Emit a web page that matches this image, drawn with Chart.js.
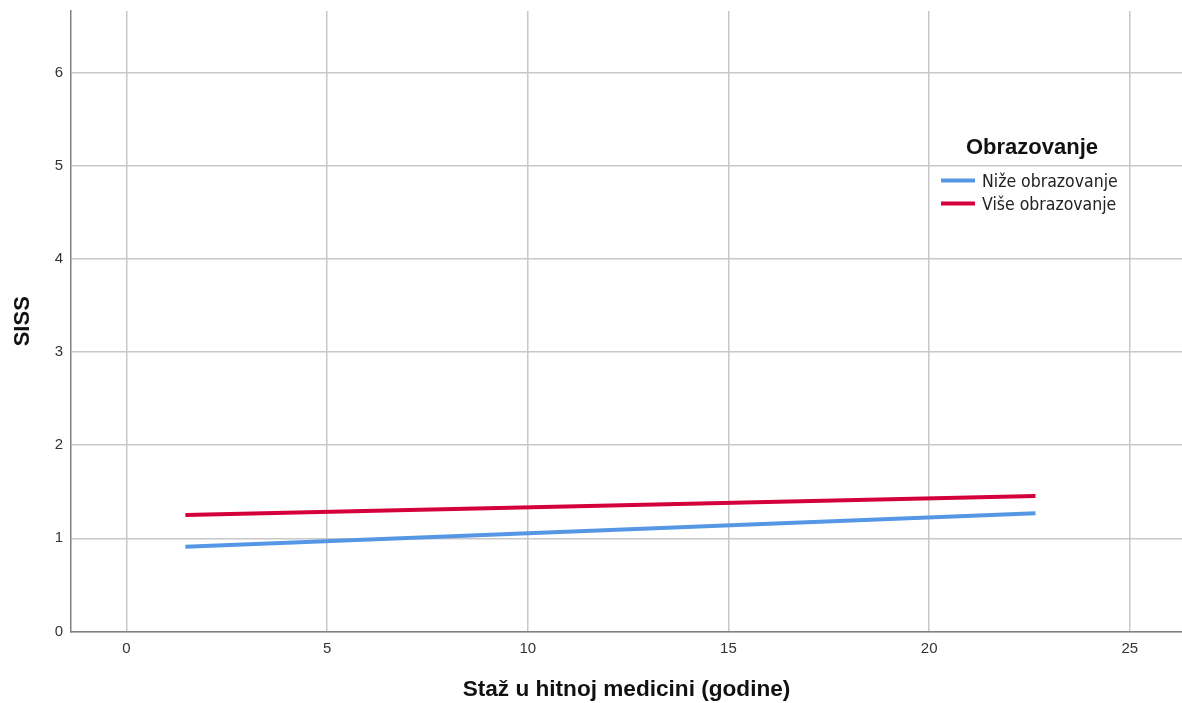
<!DOCTYPE html>
<html>
<head>
<meta charset="utf-8">
<script src="https://cdn.jsdelivr.net/npm/chart.js@4/dist/chart.umd.min.js"></script>
<style>
html,body{margin:0;padding:0;background:#fff;}
#wrap{width:1182px;height:703px;position:relative;}
</style>
</head>
<body>
<div id="wrap"><canvas id="c" width="1182" height="703"></canvas></div>
<script>
const seriesNames = ["Niže obrazovanje", "Više obrazovanje"];
const seriesColors = ["#5597e5", "#d4003b"];
const xValues = [1.47, 22.65];
const nizeValues = [0.91, 1.27];
const viseValues = [1.25, 1.455];
const xTicks = [0, 5, 10, 15, 20, 25];
const yTicks = [0, 1, 2, 3, 4, 5, 6];
const legendTitle = "Obrazovanje";
const xTitle = "Staž u hitnoj medicini (godine)";
const yTitle = "SISS";

const toPts = (vals) => xValues.map((x, i) => ({x: x, y: vals[i]}));

const legendPlugin = {
  id: 'customLegend',
  afterDraw(chart) {
    const ctx = chart.ctx;
    ctx.save();
    ctx.fillStyle = '#111';
    ctx.font = 'bold 22px "Liberation Sans", Arial, sans-serif';
    ctx.textAlign = 'center';
    ctx.textBaseline = 'middle';
    ctx.fillText(legendTitle, 1032, 148);
    ctx.font = '17.5px "Liberation Sans Narrow", "DejaVu Sans Condensed", sans-serif';
    ctx.textAlign = 'left';
    chart.data.datasets.forEach((ds, i) => {
      const y = 180.5 + i * 23;
      ctx.strokeStyle = ds.borderColor;
      ctx.lineWidth = 4;
      ctx.beginPath();
      ctx.moveTo(941, y);
      ctx.lineTo(975, y);
      ctx.stroke();
      ctx.fillStyle = '#222';
      ctx.fillText(ds.label, 982, y + 1.5);
    });
    ctx.restore();
  }
};

new Chart(document.getElementById('c'), {
  type: 'scatter',
  data: {
    datasets: [
      {label: seriesNames[0], data: toPts(nizeValues), borderColor: seriesColors[0], backgroundColor: seriesColors[0], showLine: true, borderWidth: 4, pointRadius: 0},
      {label: seriesNames[1], data: toPts(viseValues), borderColor: seriesColors[1], backgroundColor: seriesColors[1], showLine: true, borderWidth: 4, pointRadius: 0}
    ]
  },
  options: {
    responsive: false,
    animation: false,
    layout: {padding: {top: 11, right: 0, left: 0, bottom: 0}},
    plugins: {legend: {display: false}, tooltip: {enabled: false}},
    scales: {
      x: {
        type: 'linear',
        min: -1.38, max: 26.3,
        afterBuildTicks(s) { s.ticks = xTicks.map(v => ({value: v})); },
        afterFit(s) { s.height = 71.5; s.paddingLeft = 0; s.paddingRight = 0; },
        grid: {color: '#c8c8c8', lineWidth: 1.5, drawTicks: false},
        border: {color: '#808080', width: 1.5},
        ticks: {padding: 8, color: '#333', font: {family: '"Liberation Sans", Arial, sans-serif', size: 15}},
        title: {display: true, text: xTitle, color: '#111', padding: {top: 0, bottom: 0}, font: {family: '"Liberation Sans", Arial, sans-serif', size: 22.6, weight: 'bold'}}
      },
      y: {
        type: 'linear',
        min: 0, max: 6.66,
        afterBuildTicks(s) { s.ticks = yTicks.map(v => ({value: v})); },
        afterFit(s) { s.width = 71; s.paddingTop = 0; s.paddingBottom = 0; },
        grid: {color: '#c8c8c8', lineWidth: 1.5, drawTicks: false},
        border: {color: '#808080', width: 1.5},
        ticks: {padding: 8, color: '#333', font: {family: '"Liberation Sans", Arial, sans-serif', size: 15}},
        title: {display: true, text: yTitle, color: '#111', padding: {top: 10, bottom: 0}, font: {family: '"Liberation Sans", Arial, sans-serif', size: 22, weight: 'bold'}}
      }
    }
  },
  plugins: [legendPlugin]
});
</script>
</body>
</html>
